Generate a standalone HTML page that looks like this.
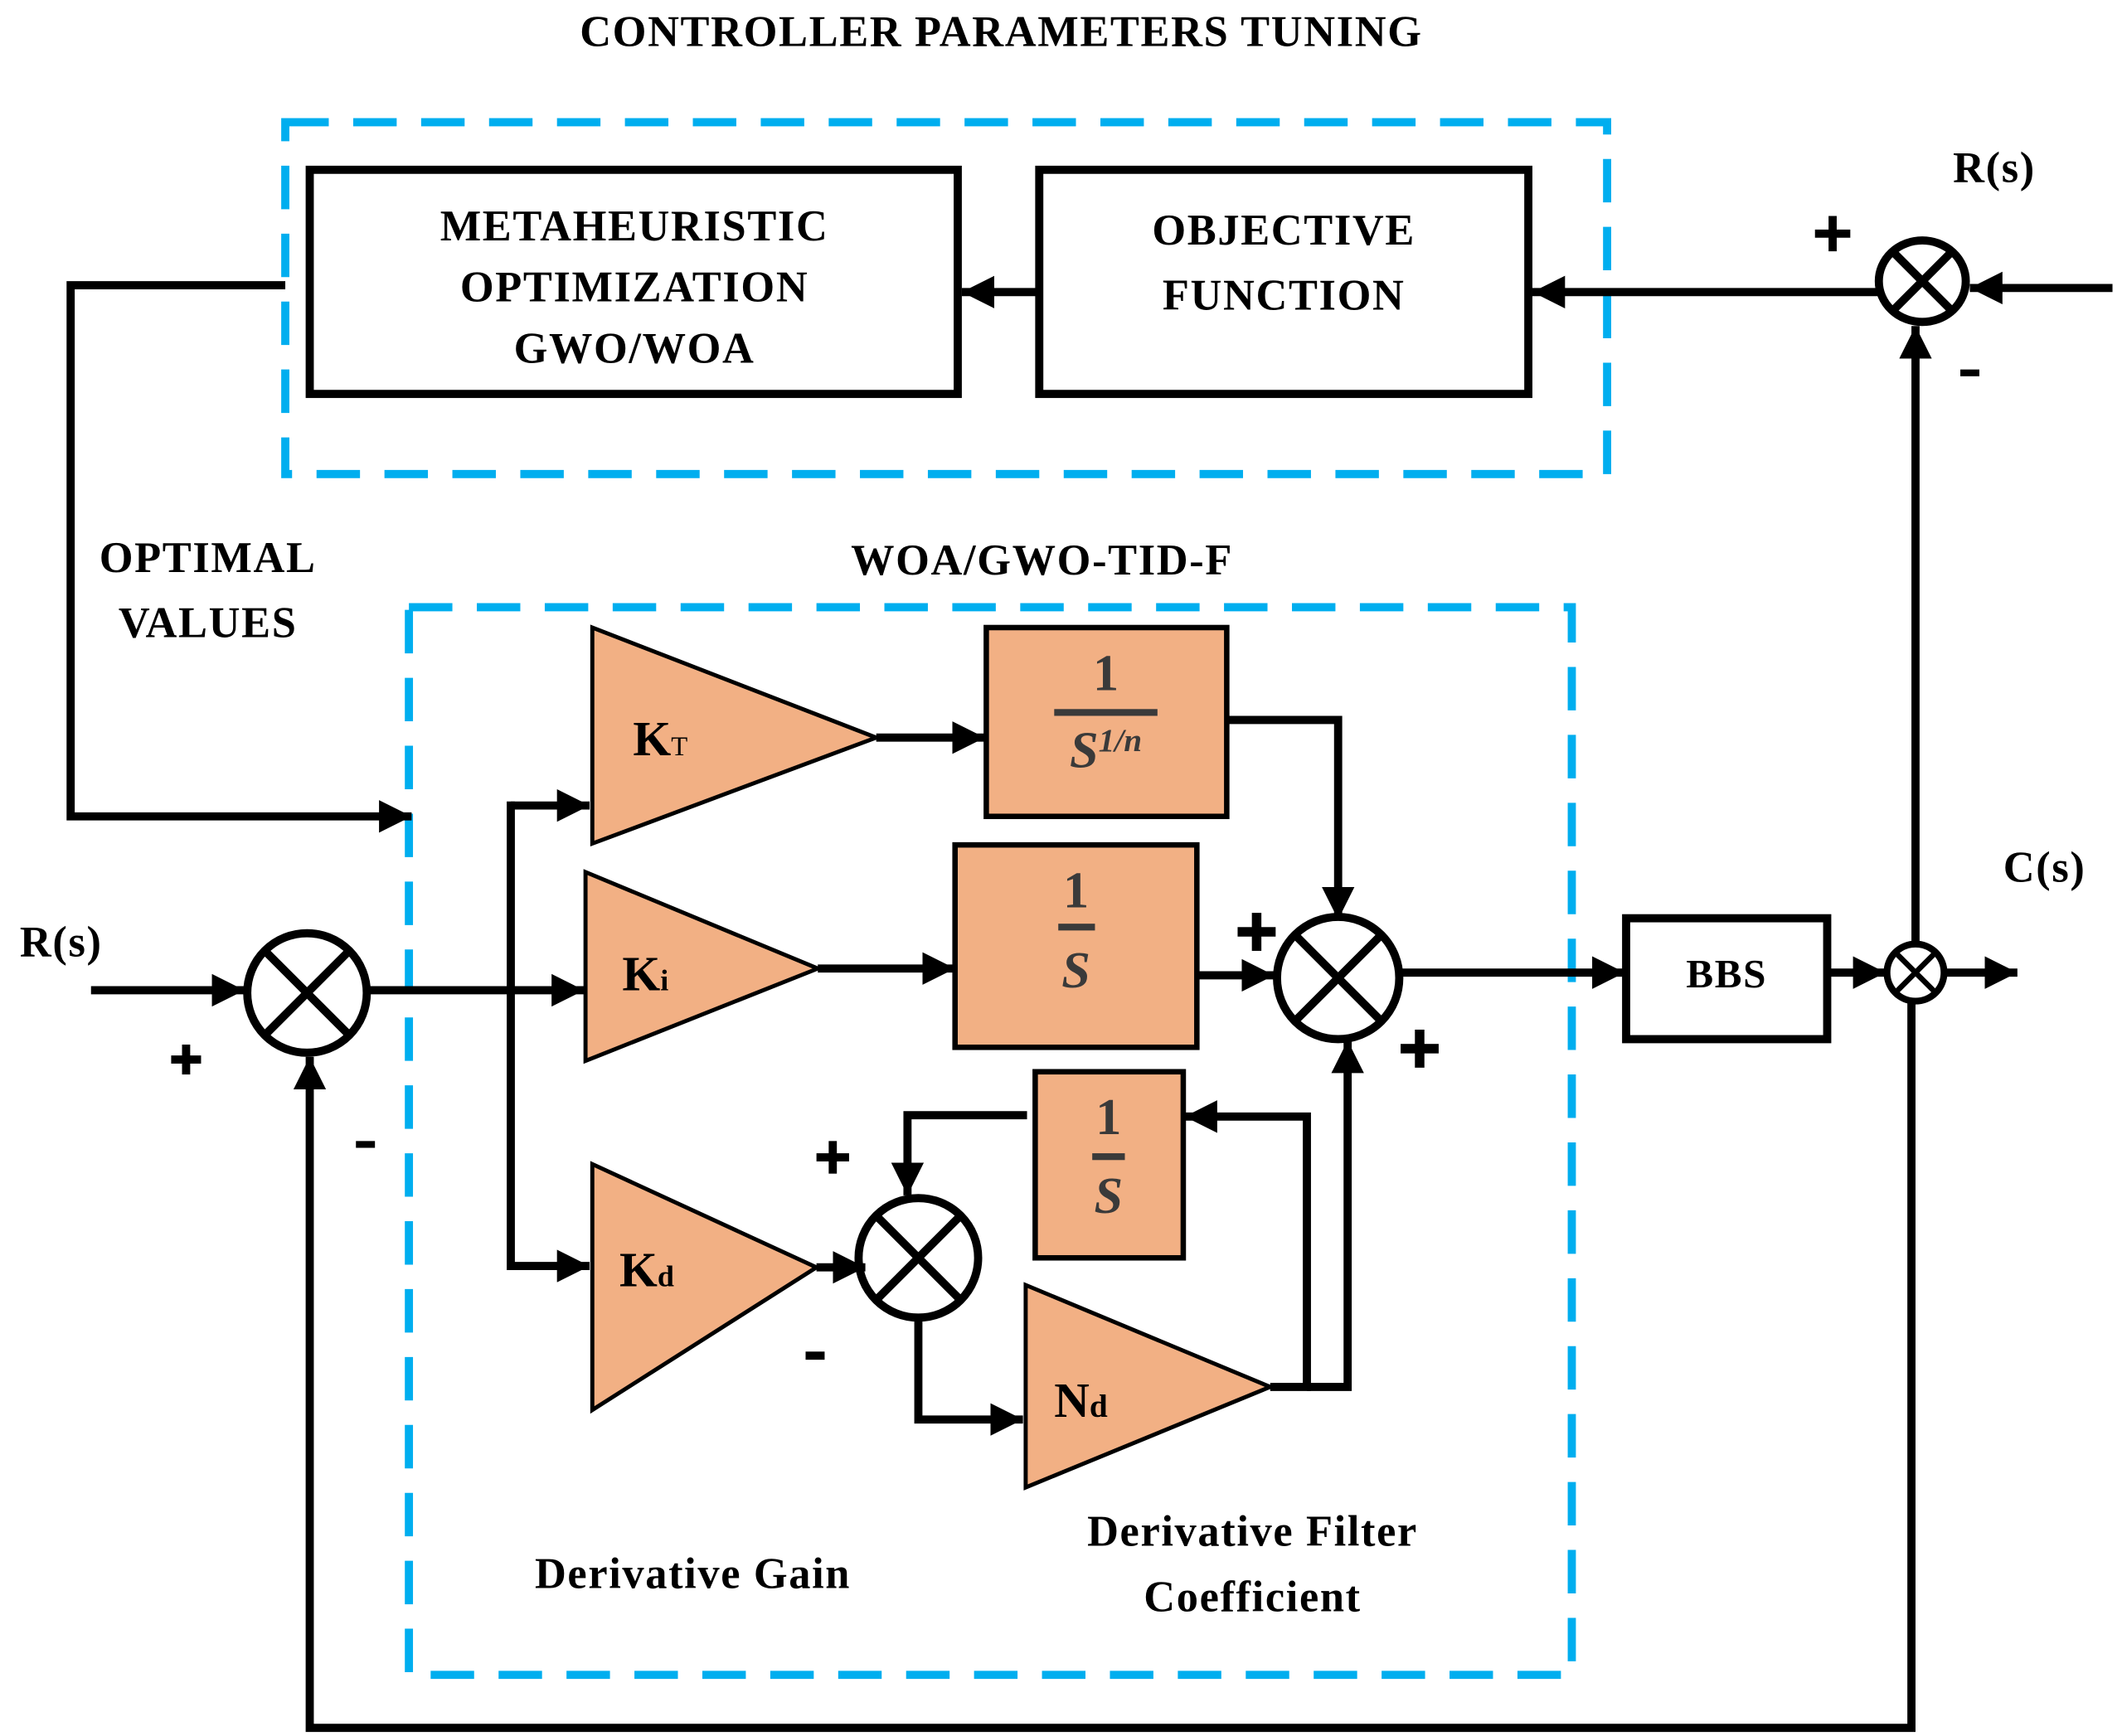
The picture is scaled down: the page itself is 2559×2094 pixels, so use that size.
<!DOCTYPE html>
<html><head><meta charset="utf-8"><style>
html,body{margin:0;padding:0;background:#fff;}
svg{display:block;}
text{font-family:"Liberation Serif",serif;font-weight:bold;fill:#000;}
.m{font-family:"Liberation Serif",serif;fill:#3a3a3a;}
</style></head><body>
<svg width="2559" height="2094" viewBox="0 0 1562 1278" preserveAspectRatio="none" xmlns="http://www.w3.org/2000/svg">
<defs>
<marker id="a" viewBox="0 0 10 10" refX="10" refY="5" markerWidth="4" markerHeight="4" orient="auto" markerUnits="strokeWidth"><path d="M0,0L10,5L0,10z" fill="#000"/></marker>
</defs>
<g font-size="32" text-anchor="middle" letter-spacing="1">
<text x="737" y="34">CONTROLLER PARAMETERS TUNING</text>
<text x="467" y="177">METAHEURISTIC</text>
<text x="467" y="222">OPTIMIZATION</text>
<text x="467" y="267">GWO/WOA</text>
<text x="945" y="180">OBJECTIVE</text>
<text x="945" y="228">FUNCTION</text>
<text x="153" y="421">OPTIMAL</text>
<text x="153" y="469">VALUES</text>
<text x="767" y="423">WOA/GWO-TID-F</text>
<text x="1468" y="134">R(s)</text>
<text x="45" y="704">R(s)</text>
<text x="1505" y="649">C(s)</text>
<text x="1271" y="727" font-size="30">BBS</text>
<text x="510" y="1169">Derivative Gain</text>
<text x="922" y="1138">Derivative Filter</text>
<text x="922" y="1186">Coefficient</text>
</g>
<!-- plus / minus signs -->
<g fill="#000">
<g transform="translate(1349,172)"><rect x="-13" y="-3" width="26" height="6"/><rect x="-3" y="-13" width="6" height="26"/></g>
<rect x="1443" y="272" width="14" height="5"/>
<g transform="translate(137,780)"><rect x="-11" y="-3" width="22" height="6"/><rect x="-3" y="-11" width="6" height="22"/></g>
<rect x="262" y="840" width="14" height="5"/>
<g transform="translate(925,686)"><rect x="-14" y="-3.5" width="28" height="7"/><rect x="-3.5" y="-14" width="7" height="28"/></g>
<g transform="translate(1045,772)"><rect x="-14" y="-3.5" width="28" height="7"/><rect x="-3.5" y="-14" width="7" height="28"/></g>
<g transform="translate(613,852)"><rect x="-12" y="-3" width="24" height="6"/><rect x="-3" y="-12" width="6" height="24"/></g>
<rect x="593" y="995" width="14" height="6"/>
</g>
<!-- dashed boxes -->
<g fill="none" stroke="#00AEEF" stroke-width="6" stroke-dasharray="32,18">
<rect x="210" y="90" width="973" height="259"/>
<rect x="301" y="447" width="856" height="786"/>
</g>
<g fill="none" stroke="#000" stroke-width="6">
<rect x="228" y="125" width="477" height="165"/>
<rect x="765" y="125" width="360" height="165"/>
<rect x="1197" y="676" width="148" height="89"/>
</g>
<!-- blocks -->
<g fill="#F2B084" stroke="#000" stroke-width="3">
<polygon points="436,462 436,621 645,543"/>
<polygon points="431,642 431,781 602,713"/>
<polygon points="436,857 436,1038 601,933"/>
<polygon points="755,946 755,1095 935,1021"/>
</g>
<g fill="#F2B084" stroke="#000" stroke-width="4">
<rect x="726" y="462" width="177" height="139"/>
<rect x="703" y="622" width="178" height="149"/>
<rect x="762" y="789" width="109" height="137"/>
</g>
<g font-size="36">
<text x="466" y="556">K<tspan font-size="20" font-weight="normal">T</tspan></text>
<text x="458" y="729">K<tspan font-size="22">i</tspan></text>
<text x="456" y="947">K<tspan font-size="22">d</tspan></text>
<text x="776" y="1043">N<tspan font-size="24">d</tspan></text>
</g>
<!-- fractions -->
<g class="m" font-weight="bold" text-anchor="middle">
<text class="m" x="814" y="508" font-size="38">1</text>
<rect x="776" y="522" width="76" height="5" fill="#3a3a3a"/>
<text class="m" x="814" y="565" font-size="38" font-style="italic">S<tspan font-size="24" dy="-12">1/n</tspan></text>
<text class="m" x="792" y="668" font-size="38">1</text>
<rect x="779" y="680" width="27" height="5" fill="#3a3a3a"/>
<text class="m" x="792" y="727" font-size="38" font-style="italic">S</text>
<text class="m" x="816" y="835" font-size="38">1</text>
<rect x="804" y="849" width="24" height="5" fill="#3a3a3a"/>
<text class="m" x="816" y="893" font-size="38" font-style="italic">S</text>
</g>
<!-- summing junctions -->
<g fill="#fff" stroke="#000" stroke-width="6">
<ellipse cx="1415" cy="207" rx="32" ry="30"/>
<circle cx="226" cy="731" r="44"/>
<circle cx="985" cy="720" r="45"/>
<circle cx="1410" cy="716" r="21" stroke-width="5"/>
<circle cx="676" cy="926" r="44"/>
</g>
<g stroke="#000" stroke-width="6">
<path d="M1393,185L1437,229M1437,185L1393,229"/>
<path d="M195,700L257,762M257,700L195,762"/>
<path d="M953,688L1017,752M1017,688L953,752"/>
<path d="M1396,702L1424,730M1424,702L1396,730" stroke-width="4"/>
<path d="M645,895L707,957M707,895L645,957"/>
</g>
<!-- connectors -->
<g fill="none" stroke="#000" stroke-width="6">
<path d="M765,215H708" marker-end="url(#a)"/>
<path d="M1383,215H1128" marker-end="url(#a)"/>
<path d="M1555,212H1450" marker-end="url(#a)"/>
<path d="M1410,695V240" marker-end="url(#a)"/>
<path d="M210,210H52V601H303" marker-end="url(#a)"/>
<path d="M67,729H180" marker-end="url(#a)"/>
<path d="M270,729H430" marker-end="url(#a)"/>
<path d="M376,593H434" marker-end="url(#a)"/>
<path d="M376,590V932H434" marker-end="url(#a)"/>
<path d="M645,543H725" marker-end="url(#a)"/>
<path d="M903,530H985V677" marker-end="url(#a)"/>
<path d="M602,713H703" marker-end="url(#a)"/>
<path d="M881,718H938" marker-end="url(#a)"/>
<path d="M1031,716H1196" marker-end="url(#a)"/>
<path d="M1345,716H1388" marker-end="url(#a)"/>
<path d="M1432,716H1485" marker-end="url(#a)"/>
<path d="M1407,738V1272H228V778" marker-end="url(#a)"/>
<path d="M601,933H637" marker-end="url(#a)"/>
<path d="M756,821H668V880" marker-end="url(#a)"/>
<path d="M676,971V1045H753" marker-end="url(#a)"/>
<path d="M935,1021H962V822H872" marker-end="url(#a)"/>
<path d="M962,1021H992V766" marker-end="url(#a)"/>
</g>
</svg>
</body></html>
